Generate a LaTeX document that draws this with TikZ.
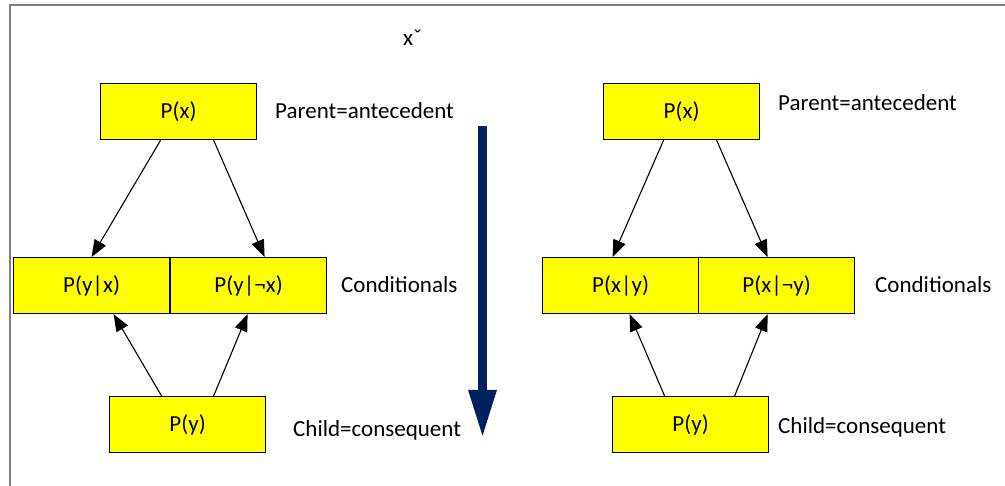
\documentclass[tikz,border=0pt]{standalone}
\usepackage{fontspec}
\setmainfont{Carlito}
\usetikzlibrary{arrows.meta}
\definecolor{boxyellow}{RGB}{255,255,0}
\definecolor{navyblue}{RGB}{0,32,96}
\definecolor{framegray}{RGB}{128,128,128}

\begin{document}
\begin{tikzpicture}[x=1pt,y=-1pt,
  pbox/.style={draw=black, line width=1.2pt, fill=boxyellow,
    minimum width=156pt, minimum height=56pt, inner sep=0pt,
    font=\fontsize{23}{26}\selectfont, anchor=north west},
  lbl/.style={anchor=west, inner sep=0pt, font=\fontsize{23}{26}\selectfont},
  link/.style={-{Triangle[length=17pt,width=13pt]}, line width=1.1pt}
]
\useasboundingbox (0,0) rectangle (1005,486);

% frame
\draw[framegray, line width=2pt] (10,486) -- (10,5) -- (1005,5);

\node[lbl] (xc) at (403,38) {xˇ};

% left network: x is the parent
\node[pbox] (pxL) at (100,83) {P(x)};
\node[pbox] (c1L) at (13,257) {P(y|x)};
\node[pbox] (c2L) at (170,257) {P(y|¬x)};
\node[pbox] (pyL) at (109,396) {P(y)};

\node[lbl] (parL) at (275,111) {Parent=antecedent};
\node[lbl] (conL) at (341,285) {Conditionals};
\node[lbl] (chiL) at (293,430) {Child=consequent};

\draw[link] ([xshift=-18pt]pxL.south) -- (c1L.north);
\draw[link] ([xshift=35pt]pxL.south) -- ([xshift=16pt]c2L.north);
\draw[link] ([xshift=-26pt]pyL.north) -- ([xshift=22pt]c1L.south);
\draw[link] ([xshift=26pt]pyL.north) -- ([xshift=-1pt]c2L.south);

% direction of reasoning
\coordinate (dtop) at (482.5,126);
\coordinate (dbot) at (482.5,438);
\draw[navyblue, line width=9pt, -{Triangle[length=48pt,width=26pt]}] (dtop) -- (dbot);

% right network: y is the parent
\node[pbox] (pxR) at (603,83) {P(x)};
\node[pbox] (c1R) at (542,257) {P(x|y)};
\node[pbox] (c2R) at (698,257) {P(x|¬y)};
\node[pbox] (pyR) at (612,396) {P(y)};

\node[lbl] (parR) at (778,103) {Parent=antecedent};
\node[lbl] (conR) at (875,285) {Conditionals};
\node[lbl] (chiR) at (778,427) {Child=consequent};

\draw[link] ([xshift=-18pt]pxR.south) -- ([xshift=-8pt]c1R.north);
\draw[link] ([xshift=35pt]pxR.south) -- ([xshift=-9pt]c2R.north);
\draw[link] ([xshift=-26pt]pyR.north) -- ([xshift=9pt]c1R.south);
\draw[link] ([xshift=44pt]pyR.north) -- ([xshift=-9pt]c2R.south);
\end{tikzpicture}
\end{document}
